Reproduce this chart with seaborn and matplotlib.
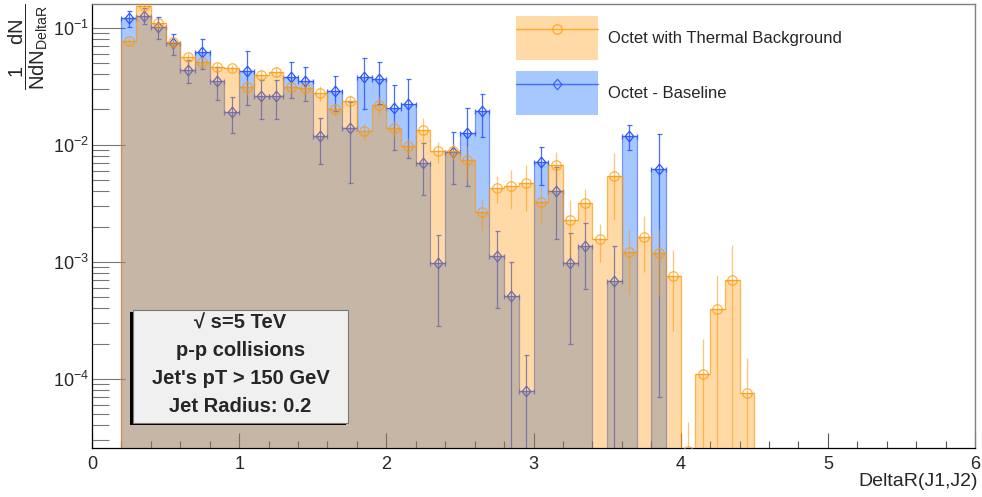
import numpy as np
import pandas as pd
import matplotlib
matplotlib.use("Agg")
import matplotlib.pyplot as plt
import seaborn as sns
from matplotlib.patches import Rectangle, Patch
from matplotlib.lines import Line2D
from matplotlib.ticker import LogLocator, LogFormatterMathtext, MultipleLocator, NullFormatter, FixedLocator

# ---- histogram binning (DeltaR between the two leading jets) ----
bin_lo, bin_hi, bin_width = 0.2, 4.5, 0.1
bin_edges = np.round(np.arange(bin_lo, bin_hi + bin_width / 2, bin_width), 2)
bin_centers = (bin_edges[:-1] + bin_edges[1:]) / 2

# ---- normalised yields per bin ----
thermal_values = [
    0.0765, 0.153, 0.109, 0.0759, 0.0558, 0.0509, 0.0464, 0.0450, 0.0311, 0.0392,
    0.0421, 0.0313, 0.0303, 0.0278, 0.0202, 0.0236, 0.0132, 0.0217, 0.0138, 0.00975,
    0.01336, 0.00883, 0.00889, 0.00740, 0.00267, 0.00426, 0.00444, 0.00473, 0.00326, 0.00670,
    0.00227, 0.00318, 0.00155, 0.00537, 0.00120, 0.00164, 0.00119, 0.000755, 0.000024, 0.000109,
    0.000396, 0.000698, 0.000075,
]
thermal_errors = [
    0.0047, 0.010, 0.007, 0.0063, 0.0046, 0.0049, 0.0038, 0.0033, 0.0046, 0.0043,
    0.0043, 0.0032, 0.0032, 0.0040, 0.0027, 0.0030, 0.0022, 0.0040, 0.0022, 0.0016,
    0.0035, 0.0018, 0.0015, 0.0024, 0.0008, 0.0011, 0.0016, 0.0020, 0.0011, 0.0020,
    0.0011, 0.0010, 0.00055, 0.0031, 0.00067, 0.00082, 0.00068, 0.00050, 0.000019, 0.000108,
    0.00037, 0.00069, 0.000074,
]
baseline_values = [
    0.1203, 0.1266, 0.102, 0.0736, 0.0432, 0.0624, 0.0352, 0.0191, 0.0428, 0.0261,
    0.0262, 0.0381, 0.0348, 0.0119, 0.0290, 0.0140, 0.0377, 0.0367, 0.0207, 0.0221,
    0.00702, 0.00098, 0.00871, 0.0125, 0.0194, 0.00112, 0.000512, 0.000079, 0.00707, 0.00402,
    0.00098, 0.00137, 0.0, 0.000684, 0.01186, 0.0, 0.00617, 0.0, 0.0, 0.0,
    0.0, 0.0, 0.0,
]
baseline_errors = [
    0.019, 0.020, 0.022, 0.0147, 0.0098, 0.0176, 0.0112, 0.0065, 0.0208, 0.0096,
    0.0095, 0.0131, 0.0113, 0.0050, 0.0096, 0.0093, 0.0174, 0.0142, 0.0117, 0.0144,
    0.0033, 0.0007, 0.0041, 0.0081, 0.0077, 0.00072, 0.00049, 0.000081, 0.00255, 0.00247,
    0.00078, 0.00078, 0.0, 0.00069, 0.0029, 0.0, 0.0061, 0.0, 0.0, 0.0,
    0.0, 0.0, 0.0,
]

series_labels = ["Octet with Thermal Background", "Octet - Baseline"]
x_title = "DeltaR(J1,J2)"
y_title = r"$\dfrac{1\quad\ \mathrm{dN}}{\mathrm{NdN}_{\mathrm{DeltaR}}}$"
info_lines = ["\u221a s=5 TeV", "p-p collisions", "Jet's pT > 150 GeV", "Jet Radius: 0.2"]
x_major_ticks = [0, 1, 2, 3, 4, 5, 6]
x_range = (0, 6)
y_range = (2.56e-5, 0.161)

df = pd.DataFrame({
    "DeltaR": bin_centers,
    "thermal": thermal_values,
    "thermal_err": thermal_errors,
    "baseline": baseline_values,
    "baseline_err": baseline_errors,
})

# ---- styling ----
sns.set_theme(style="white")
plt.rcParams["font.family"] = ["Liberation Sans", "DejaVu Sans"]
plt.rcParams["mathtext.fontset"] = "custom"
plt.rcParams["mathtext.rm"] = "Liberation Sans"
plt.rcParams["mathtext.it"] = "Liberation Sans:italic"
plt.rcParams["mathtext.bf"] = "Liberation Sans:bold"

ORANGE = (1.0, 0.59, 0.0)
BLUE_FILL = (0.0, 0.39, 1.0)
BLUE_LINE = (0.16, 0.33, 1.0)
FILL_ALPHA = 0.35

W, H = 982, 497
fig = plt.figure(figsize=(W / 100, H / 100), dpi=100)
ax = fig.add_axes([92 / W, 1 - 448 / H, (975 - 92) / W, (448 - 3.5) / H])

diamond = [(0, 0.5), (0.415, 0), (0, -0.5), (-0.415, 0), (0, 0.5)]


def draw_points(values, errors, marker, color, alpha, ms, capsize, zorder):
    v = df[values].to_numpy()
    e = df[errors].to_numpy()
    keep = v > 0
    v, e, x = v[keep], e[keep], df["DeltaR"].to_numpy()[keep]
    lower = np.minimum(e, v * 0.999)
    ax.errorbar(x, v, yerr=[lower, e], xerr=bin_width / 2, fmt="none",
                ecolor=(*color, alpha), elinewidth=0.9, capsize=capsize,
                capthick=0.9, zorder=zorder)
    ax.plot(x, v, linestyle="none", marker=marker, ms=ms, mfc="none",
            mec=(*color, min(1.0, alpha + 0.15)), mew=0.9, zorder=zorder + 0.1)


edges_list = [float(b) for b in bin_edges]

# baseline histogram (drawn first so the thermal one tints it)
sns.histplot(data=df, x="DeltaR", weights="baseline", bins=edges_list,
             element="step", fill=True, color=BLUE_FILL, alpha=FILL_ALPHA,
             edgecolor=(*BLUE_LINE, 0.55), linewidth=0.9, ax=ax, zorder=1)
draw_points("baseline", "baseline_err", diamond, BLUE_LINE, 0.85, 7.6, 1.8, 2)

# thermal-background histogram
sns.histplot(data=df, x="DeltaR", weights="thermal", bins=edges_list,
             element="step", fill=True, color=ORANGE, alpha=FILL_ALPHA,
             edgecolor=(*ORANGE, 0.65), linewidth=0.9, ax=ax, zorder=3)
draw_points("thermal", "thermal_err", "o", ORANGE, 0.55, 6.8, 0, 4)

# ---- axes ----
ax.set_yscale("log")
ax.set_xlim(*x_range)
ax.set_ylim(*y_range)
ax.set_xlabel("")
ax.set_ylabel("")
ax.xaxis.set_major_locator(FixedLocator(x_major_ticks))
ax.xaxis.set_minor_locator(MultipleLocator(0.2))
ax.yaxis.set_major_locator(LogLocator(base=10, numticks=10))
ax.yaxis.set_minor_locator(LogLocator(base=10, subs=np.arange(2, 10), numticks=20))
ax.yaxis.set_major_formatter(LogFormatterMathtext())
ax.yaxis.set_minor_formatter(NullFormatter())

ax.tick_params(axis="x", which="major", direction="in", length=10.8, width=0.8,
               color="#555555", labelsize=13, pad=6, bottom=True, top=False)
ax.tick_params(axis="x", which="minor", direction="in", length=5.2, width=0.8,
               color="#555555", bottom=True, top=False)
ax.tick_params(axis="y", which="major", direction="in", length=24, width=0.8,
               color="#777777", labelsize=13, pad=2, left=True, right=False)
ax.tick_params(axis="y", which="minor", direction="in", length=12, width=0.8,
               color="#777777", left=True, right=False)
for side in ("left", "bottom"):
    ax.spines[side].set_color("black")
    ax.spines[side].set_linewidth(0.9)
for side in ("top", "right"):
    ax.spines[side].set_color("#808080")
    ax.spines[side].set_linewidth(1.0)

fig.text(978 / W, 1 - 481 / H, x_title, ha="right", va="center", fontsize=14)
fig.text(28 / W, 1 - 4 / H, y_title, rotation=90, ha="center", va="top", fontsize=14.5)

# ---- legend ----
handles = [
    (Patch(facecolor=(*ORANGE, FILL_ALPHA), edgecolor="none"),
     Line2D([], [], color=(*ORANGE, 0.75), lw=1.0, marker="o", ms=6.8,
            mfc="none", mec=(*ORANGE, 0.75), mew=0.9)),
    (Patch(facecolor=(*BLUE_FILL, FILL_ALPHA), edgecolor="none"),
     Line2D([], [], color=(*BLUE_LINE, 0.8), lw=1.0, marker=diamond, ms=7.6,
            mfc="none", mec=(*BLUE_LINE, 0.85), mew=0.9)),
]
ax.legend(handles, series_labels, loc="upper left",
          bbox_to_anchor=(516 / W, 1 - 16 / H), bbox_transform=fig.transFigure,
          frameon=False, fontsize=12, handlelength=4.9, handleheight=3.68,
          labelspacing=0.66, handletextpad=0.65, borderpad=0, borderaxespad=0,
          numpoints=1)

# ---- information box with shadow ----
bx0, bx1, by0, by1 = 132.7, 348.3, 309.5, 422.5
bw, bh = (bx1 - bx0) / W, (by1 - by0) / H
fig.add_artist(Rectangle(((bx0 - 2.7) / W, 1 - (by1 + 2.7) / H), bw, bh,
                         transform=fig.transFigure, facecolor="black",
                         edgecolor="none", zorder=9))
fig.add_artist(Rectangle((bx0 / W, 1 - by1 / H), bw, bh,
                         transform=fig.transFigure, facecolor="#f0f0f0",
                         edgecolor="#7a7a7a", linewidth=0.8, zorder=10))
for line, yy in zip(info_lines, [323, 350.7, 378.3, 406]):
    fig.text((bx0 + bx1) / 2 / W, 1 - yy / H, line, ha="center", va="center",
             fontsize=14.5, fontweight="bold", zorder=11)

fig.savefig("out.png", dpi=100)
